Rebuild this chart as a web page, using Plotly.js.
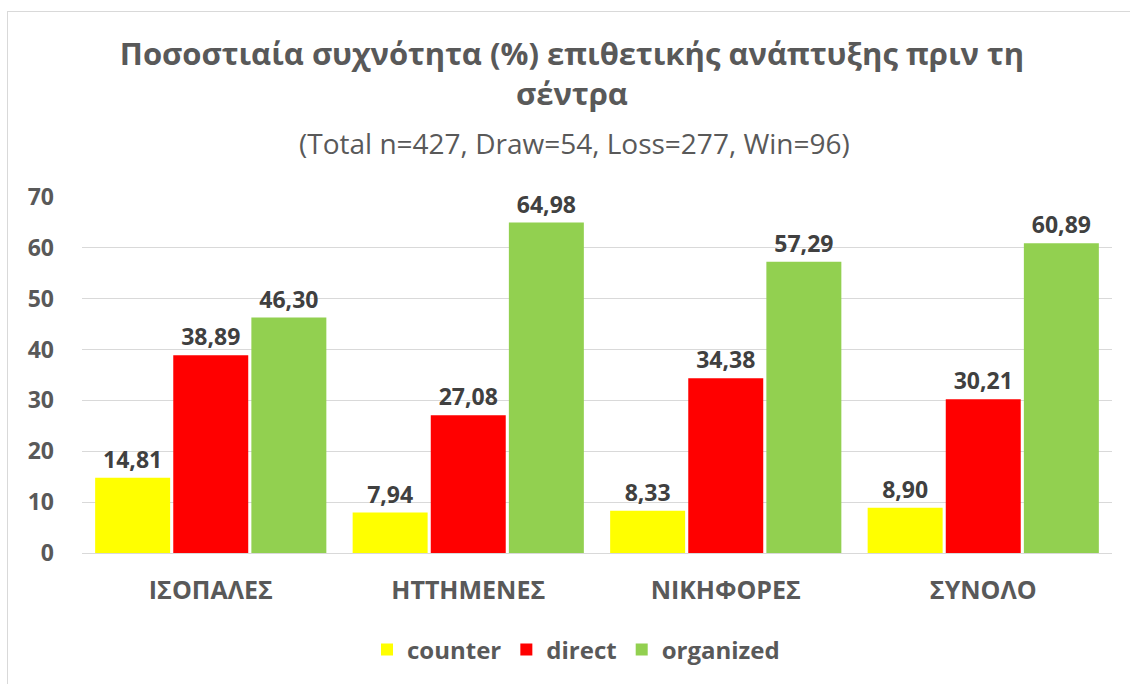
<!DOCTYPE html>
<html>
<head>
<meta charset="utf-8">
<script src="https://cdn.plot.ly/plotly-3.0.1.min.js"></script>
<style>
html,body{margin:0;padding:0;background:#fff;}
#wrap{position:relative;width:1130px;height:684px;}
#frame{position:absolute;left:7px;top:11px;width:1200px;height:800px;border-left:1px solid #d9d9d9;border-top:1px solid #d9d9d9;pointer-events:none;}
#chart{position:absolute;left:0;top:0;width:1130px;height:684px;}
</style>
</head>
<body>
<div id="wrap"><div id="chart"></div><div id="frame"></div></div>
<script>
const categories = ["ΙΣΟΠΑΛΕΣ", "ΗΤΤΗΜΕΝΕΣ", "ΝΙΚΗΦΟΡΕΣ", "ΣΥΝΟΛΟ"];
const counter = [14.81, 7.94, 8.33, 8.90];
const direct = [38.89, 27.08, 34.38, 30.21];
const organized = [46.30, 64.98, 57.29, 60.89];
const seriesNames = ["counter", "direct", "organized"];
const yTicks = [0, 10, 20, 30, 40, 50, 60, 70];

const FONT = "'Open Sans', 'Noto Sans', sans-serif";
const fmt = v => v.toFixed(2).replace('.', ',');
const colors = ["#FFFF00", "#FF0000", "#92D050"];
const data = [counter, direct, organized].map((vals, i) => ({
  type: 'bar',
  name: seriesNames[i],
  x: categories,
  y: vals,
  marker: {color: colors[i]},
  text: vals.map(fmt),
  textposition: 'outside',
  cliponaxis: false,
  textfont: {family: FONT, size: 23, color: '#404040', weight: 'bold'},
  hoverinfo: 'x+y'
}));

const plotTop = 197, plotBottom = 553, plotLeft = 82, plotRight = 1112;
const paperY = px => (plotBottom - px) / (plotBottom - plotTop);
const paperX = px => (px - plotLeft) / (plotRight - plotLeft);

const layout = {
  width: 1130, height: 684,
  margin: {l: 82, r: 18, t: 197, b: 131},
  paper_bgcolor: 'rgba(0,0,0,0)',
  plot_bgcolor: '#fff',
  barmode: 'group',
  bargap: 0.09,
  bargroupgap: 0.04,
  title: {
    text: '<b>Ποσοστιαία συχνότητα (%) επιθετικής ανάπτυξης πριν τη<br>σέντρα</b>',
    font: {family: FONT, size: 31, color: '#595959'},
    x: 572 / 1130, xanchor: 'center',
    y: 0.905, yanchor: 'top', yref: 'container'
  },
  annotations: [{
    text: '(Total n=427, Draw=54, Loss=277, Win=96)',
    xref: 'paper', yref: 'paper', x: paperX(574), y: paperY(143),
    xanchor: 'center', yanchor: 'middle', showarrow: false,
    font: {family: FONT, size: 28, color: '#595959'}
  }],
  xaxis: {
    type: 'category',
    tickfont: {family: FONT, size: 25, color: '#595959', weight: 'bold'},
    ticks: '', ticklabelstandoff: 20,
    showline: false, showgrid: false, fixedrange: true
  },
  yaxis: {
    range: [0, 70],
    tickvals: yTicks,
    tickfont: {family: FONT, size: 23, color: '#595959', weight: 'bold'},
    gridcolor: '#d9d9d9', gridwidth: 1,
    zeroline: true, zerolinecolor: '#d9d9d9', zerolinewidth: 1,
    ticks: '', ticklabelstandoff: 27, fixedrange: true
  },
  showlegend: true,
  legend: {
    orientation: 'h', x: paperX(576), xanchor: 'center', y: 1 - 650/684, yref: 'container', yanchor: 'middle',
    font: {family: FONT, size: 24, color: '#595959', weight: 'bold'},
    itemwidth: 30, traceorder: 'normal'
  }
};

Plotly.newPlot('chart', data, layout, {displayModeBar: false, staticPlot: true});
</script>
</body>
</html>
